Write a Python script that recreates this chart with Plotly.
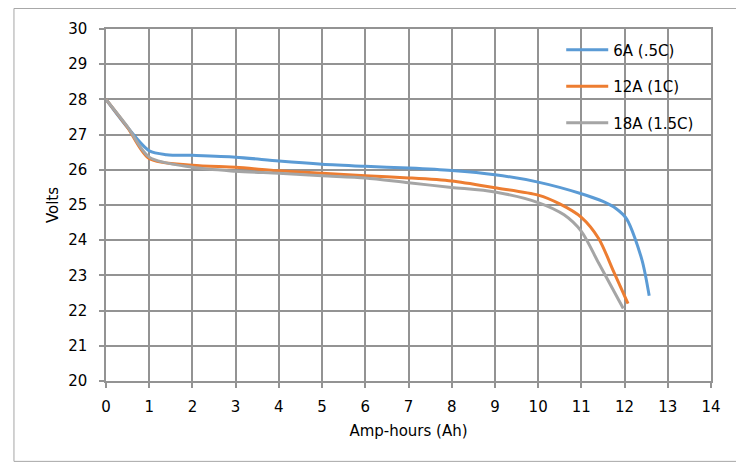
import plotly.graph_objects as go

# 6A (.5C)
x_6a = [0, 0.5, 1, 1.4, 2, 3, 4, 5, 6, 7, 8, 9, 10, 11, 11.5, 11.8, 12.05, 12.4, 12.57]
v_6a = [28, 27.2, 26.54, 26.43, 26.41, 26.36, 26.25, 26.16, 26.1, 26.05, 25.98, 25.86, 25.65, 25.32, 25.1, 24.9, 24.6, 23.45, 22.42]

# 12A (1C)
x_12a = [0, 0.5, 1, 2, 3, 4, 5, 6, 7, 8, 9, 10, 10.5, 11, 11.4, 11.75, 12.08]
v_12a = [28, 27.2, 26.32, 26.13, 26.07, 25.97, 25.9, 25.83, 25.77, 25.68, 25.49, 25.28, 25.03, 24.65, 24.05, 23.1, 22.2]

# 18A (1.5C)
x_18a = [0, 0.5, 1, 2, 3, 4, 5, 6, 7, 8, 9, 10, 10.6, 11, 11.4, 11.97]
v_18a = [28, 27.22, 26.36, 26.07, 25.96, 25.9, 25.83, 25.77, 25.63, 25.5, 25.37, 25.07, 24.72, 24.25, 23.35, 22.06]

names = ["6A (.5C)", "12A (1C)", "18A (1.5C)"]
colors = ["#5B9BD5", "#ED7D31", "#A5A5A5"]

FONT = "DejaVu Sans"
GRID = "#939393"

fig = go.Figure()
for i, (xs, vs) in enumerate([(x_6a, v_6a), (x_12a, v_12a), (x_18a, v_18a)]):
    fig.add_trace(go.Scatter(
        x=xs, y=vs, mode="lines", name=names[i],
        line=dict(color=colors[i], width=3, shape="spline", smoothing=0.8),
        legendgroup=f"g{i}",
    ))

# the page body adds an 8px offset; figure coords = screen - 8
OFF = 8
W, H = 744, 462
ml = 106 - OFF
mt = 29 - OFF
pw = 710.7 - 106
ph = 380.7 - 29
mr = W - ml - pw
mb = H - mt - ph

def px_to_paper_x(px):
    return (px - OFF - ml) / pw

def px_to_paper_y(py):
    return (mt + ph - (py - OFF)) / ph

fig.update_layout(
    width=W, height=H,
    margin=dict(l=ml, r=mr, t=mt, b=mb, autoexpand=False),
    paper_bgcolor="white", plot_bgcolor="white",
    font=dict(family=FONT, size=15, color="#000000"),
    showlegend=True,
    legend=dict(
        x=px_to_paper_x(561), y=px_to_paper_y(33.5), xanchor="left", yanchor="top",
        bgcolor="rgba(0,0,0,0)", font=dict(family=FONT, size=15),
        tracegroupgap=14, itemwidth=42,
    ),
    shapes=[dict(
        type="rect", xref="paper", yref="paper", layer="below",
        x0=px_to_paper_x(14), x1=px_to_paper_x(741.5),
        y0=px_to_paper_y(461), y1=px_to_paper_y(8.5),
        line=dict(color="#a6a6a6", width=1),
    )],
)

fig.update_xaxes(
    range=[0, 14], dtick=1, tick0=0,
    showgrid=True, gridcolor=GRID, gridwidth=1.5,
    showline=True, linecolor=GRID, linewidth=1.5, mirror=True,
    zeroline=False,
    ticks="outside", ticklen=5, tickcolor=GRID, tickwidth=1.5,
    ticklabelstandoff=6,
    tickfont=dict(family=FONT, size=15),
    title=dict(text="Amp-hours (Ah)", font=dict(family=FONT, size=15), standoff=11),
)
fig.update_yaxes(
    range=[20, 30], dtick=1, tick0=20,
    showgrid=True, gridcolor=GRID, gridwidth=1.5,
    showline=True, linecolor=GRID, linewidth=1.5, mirror=True,
    zeroline=False,
    ticks="outside", ticklen=5, tickcolor=GRID, tickwidth=1.5,
    ticklabelstandoff=9,
    tickfont=dict(family=FONT, size=15),
    title=dict(text="Volts", font=dict(family=FONT, size=15), standoff=6),
)

fig.write_html("out.html")
